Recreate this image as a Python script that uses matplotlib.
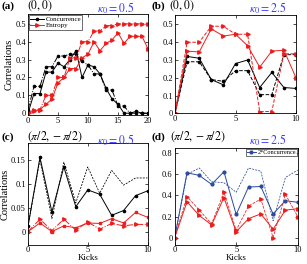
import matplotlib
matplotlib.use("Agg")
import matplotlib.pyplot as plt

plt.rcParams['font.family'] = ['Liberation Serif', 'DejaVu Serif']
plt.rcParams['mathtext.fontset'] = 'stix'
plt.rcParams['xtick.direction'] = 'in'
plt.rcParams['ytick.direction'] = 'in'
plt.rcParams['xtick.top'] = True
plt.rcParams['ytick.right'] = True
plt.rcParams['axes.linewidth'] = 0.6

# ---- data ----
kicks_a = list(range(21))
kicks = list(range(11))

# (a) (0,0), kappa0 = 0.5
conc_a = [0.0, 0.11, 0.11, 0.23, 0.23, 0.28, 0.26, 0.30, 0.35, 0.20, 0.27,
          0.26, 0.22, 0.14, 0.08, 0.05, 0.0, 0.0, 0.01, 0.0, 0.0]
conc_a_dash = [0.02, 0.15, 0.15, 0.26, 0.26, 0.32, 0.32, 0.33, 0.33, 0.29, 0.27,
               0.22, 0.22, 0.13, 0.13, 0.04, 0.04, 0.0, 0.0, 0.0, 0.0]
ent_a = [0.0, 0.01, 0.02, 0.05, 0.08, 0.17, 0.20, 0.25, 0.25, 0.31, 0.33,
         0.40, 0.35, 0.39, 0.41, 0.45, 0.39, 0.43, 0.43, 0.43, 0.36]
ent_a_dash = [0.0, 0.02, 0.02, 0.10, 0.10, 0.20, 0.20, 0.31, 0.31, 0.40, 0.40,
              0.46, 0.46, 0.49, 0.49, 0.50, 0.50, 0.50, 0.50, 0.50, 0.50]

# (b) (0,0), kappa0 = 2.5
conc_b = [0.0, 0.32, 0.31, 0.19, 0.16, 0.28, 0.30, 0.145, 0.23, 0.145, 0.14]
conc_b_dash = [0.0, 0.29, 0.29, 0.19, 0.18, 0.24, 0.24, 0.105, 0.105, 0.33, 0.33]
ent_b = [0.0, 0.35, 0.345, 0.475, 0.435, 0.445, 0.38, 0.26, 0.35, 0.355, 0.20]
ent_b_dash = [0.0, 0.40, 0.40, 0.49, 0.49, 0.445, 0.445, 0.01, 0.01, 0.335, 0.335]

# (c) (pi/2,-pi/2), kappa0 = 0.5
conc_c = [0.011, 0.155, 0.041, 0.135, 0.052, 0.087, 0.078, 0.034, 0.044, 0.075, 0.085]
conc_c_dash = [0.011, 0.15, 0.027, 0.145, 0.06, 0.135, 0.08, 0.128, 0.097, 0.112, 0.112]
ent_c = [0.0, 0.018, 0.0, 0.012, 0.008, 0.018, 0.017, 0.027, 0.018, 0.04, 0.03]
ent_c_dash = [0.0, 0.026, 0.002, 0.026, 0.003, 0.02, 0.005, 0.017, 0.012, 0.015, 0.015]

# (d) (pi/2,-pi/2), kappa0 = 2.5
conc_d = [0.0, 0.615, 0.59, 0.505, 0.625, 0.22, 0.48, 0.485, 0.225, 0.35, 0.335]
conc_d_dash = [0.0, 0.60, 0.66, 0.53, 0.52, 0.43, 0.66, 0.63, 0.16, 0.57, 0.64]
ent_d = [0.0, 0.34, 0.21, 0.12, 0.38, 0.055, 0.18, 0.225, 0.08, 0.26, 0.275]
ent_d_dash = [0.0, 0.39, 0.26, 0.13, 0.43, 0.07, 0.30, 0.365, 0.0, 0.41, 0.20]

RED = '#ee1c1c'
BLUE = '#2c4aa0'
KAPPA = '#3a3aff'
W, H = 307, 264


def box(l, r, t, b):
    return [l / W, (H - b) / H, (r - l) / W, (b - t) / H]


fig = plt.figure(figsize=(W / 100, H / 100), dpi=100)

ax_a = fig.add_axes(box(28, 148, 14, 115))
ax_b = fig.add_axes(box(175, 296, 14.7, 113.3))
ax_c = fig.add_axes(box(28, 147.5, 143, 245))
ax_d = fig.add_axes(box(174.7, 297.7, 148, 245))

lw = 0.7
# (a)
ax_a.plot(kicks_a, conc_a, '-', color='k', lw=lw, marker='o', ms=1.6, label='Concurrence')
ax_a.plot(kicks_a, ent_a, '-', color=RED, lw=lw, marker='>', ms=2.5, label='Entropy')
ax_a.plot(kicks_a, conc_a_dash, '-.', color='k', lw=lw, marker='o', ms=1.6)
ax_a.plot(kicks_a, ent_a_dash, '-.', color=RED, lw=lw, marker='>', ms=2.5)
ax_a.set_xlim(0, 20)
ax_a.set_ylim(-0.01, 0.555)
ax_a.set_xticks([0, 5, 10, 15, 20])
ax_a.set_yticks([0, 0.1, 0.2, 0.3, 0.4, 0.5])
ax_a.set_yticklabels(['0', '0.1', '0.2', '0.3', '0.4', '0.5'])
ax_a.set_ylabel('Correlations', fontsize=7.5, labelpad=1)
leg = ax_a.legend(loc='upper left', fontsize=5, frameon=True, fancybox=False,
                  borderpad=0.2, handlelength=2.0, handletextpad=0.2,
                  labelspacing=0.1, borderaxespad=0.1)
leg.get_frame().set_edgecolor('k')
leg.get_frame().set_linewidth(0.5)

# (b)
ax_b.plot(kicks, conc_b, '-', color='k', lw=lw, marker='o', ms=1.6)
ax_b.plot(kicks, conc_b_dash, '--', color='k', lw=lw, marker='o', ms=1.6)
ax_b.plot(kicks, ent_b, '-', color=RED, lw=lw, marker='>', ms=2.5)
ax_b.plot(kicks, ent_b_dash, '--', color=RED, lw=lw, marker='>', ms=2.5)
ax_b.set_xlim(0, 10)
ax_b.set_ylim(0, 0.555)
ax_b.set_xticks([0, 5, 10])
ax_b.set_yticks([0, 0.1, 0.2, 0.3, 0.4, 0.5])
ax_b.set_yticklabels(['0', '0.1', '0.2', '0.3', '0.4', '0.5'])

# (c)
ax_c.plot(kicks, conc_c, '-', color='k', lw=lw, marker='o', ms=1.6)
ax_c.plot(kicks, conc_c_dash, '--', color='k', lw=lw * 0.8, dashes=(2.5, 1.5))
ax_c.plot(kicks, ent_c, '-', color=RED, lw=lw, marker='s', ms=1.8)
ax_c.plot(kicks, ent_c_dash, '-.', color=RED, lw=lw, marker='>', ms=2.5)
ax_c.set_xlim(0, 10)
ax_c.set_ylim(-0.028, 0.185)
ax_c.set_xticks([0, 5, 10])
ax_c.set_yticks([0, 0.05, 0.1, 0.15])
ax_c.set_yticklabels(['0', '0.05', '0.1', '0.15'])
ax_c.set_ylabel('Correlations', fontsize=7.5, labelpad=1)
ax_c.set_xlabel('Kicks', fontsize=6.5, labelpad=-0.5)

# (d)
ax_d.plot(kicks, conc_d, '-', color=BLUE, lw=lw, marker='o', ms=2, label='2*Concurrence')
ax_d.plot(kicks, conc_d_dash, '--', color=BLUE, lw=lw * 0.8, dashes=(2.5, 1.5))
ax_d.plot(kicks, ent_d, '-', color=RED, lw=lw, marker='>', ms=2.5)
ax_d.plot(kicks, ent_d_dash, '--', color=RED, lw=lw * 0.8, marker='>', ms=2.5)
ax_d.set_xlim(0, 10)
ax_d.set_ylim(-0.07, 0.85)
ax_d.set_xticks([0, 5, 10])
ax_d.set_yticks([0, 0.2, 0.4, 0.6, 0.8])
ax_d.set_yticklabels(['0', '0.2', '0.4', '0.6', '0.8'])
ax_d.set_xlabel('Kicks', fontsize=6.5, labelpad=-0.5)
leg = ax_d.legend(loc='upper right', fontsize=4.5, frameon=True, fancybox=False,
                  borderpad=0.15, handlelength=1.5, handletextpad=0.2,
                  borderaxespad=0.15)
leg.get_frame().set_edgecolor('k')
leg.get_frame().set_linewidth(0.5)

for ax in (ax_a, ax_b, ax_c, ax_d):
    ax.tick_params(labelsize=6, length=2, width=0.5, pad=1.5)
for ax in (ax_c, ax_d):
    ax.tick_params(axis='x', pad=1)

# panel titles
row_y = [(6, 8), (137, 140)]
titles = [
    (1, 27, 97, '(a)', r'$(0,0)$', r'$\kappa_0=0.5$', 0),
    (152, 169, 249, '(b)', r'$(0,0)$', r'$\kappa_0=2.5$', 0),
    (1, 27, 97, '(c)', r'$(\pi/2,-\pi/2)$', r'$\kappa_0=0.5$', 1),
    (152, 170, 249, '(d)', r'$(\pi/2,-\pi/2)$', r'$\kappa_0=2.5$', 1),
]
for xl, xs, xk, lab, st, kap, row in titles:
    ty, ky = row_y[row]
    fig.text(xl / W, 1 - ty / H, lab, fontsize=8, fontweight='bold', va='center', ha='left')
    fig.text(xs / W, 1 - ty / H, st, fontsize=8.5, va='center', ha='left')
    fig.text(xk / W, 1 - ky / H, kap, fontsize=8.5, va='center', ha='left', color=KAPPA)

fig.savefig('out.png', dpi=100)
